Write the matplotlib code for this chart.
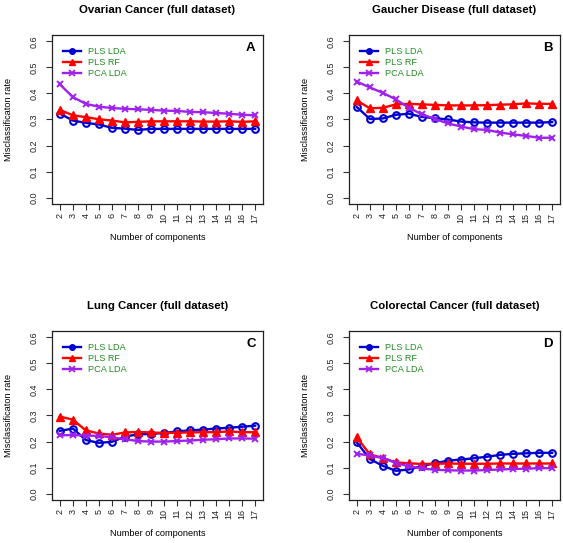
import matplotlib

matplotlib.use("Agg")
import matplotlib.pyplot as plt  # noqa: E402
from matplotlib.lines import Line2D  # noqa: E402

plt.rcParams["font.family"] = ["Liberation Sans", "DejaVu Sans"]

components = list(range(2, 18))

ovarian_pls_lda = [0.323, 0.296, 0.287, 0.281, 0.268, 0.265, 0.260, 0.264,
                   0.264, 0.264, 0.264, 0.264, 0.264, 0.264, 0.264, 0.264]
ovarian_pls_rf = [0.337, 0.316, 0.309, 0.301, 0.296, 0.289, 0.291, 0.293,
                  0.293, 0.293, 0.293, 0.292, 0.292, 0.293, 0.291, 0.293]
ovarian_pca_lda = [0.435, 0.386, 0.360, 0.349, 0.344, 0.341, 0.339, 0.337,
                   0.334, 0.333, 0.329, 0.328, 0.325, 0.322, 0.318, 0.316]

gaucher_pls_lda = [0.348, 0.302, 0.304, 0.318, 0.322, 0.310, 0.305, 0.300,
                   0.292, 0.289, 0.288, 0.288, 0.288, 0.288, 0.288, 0.290]
gaucher_pls_rf = [0.373, 0.343, 0.345, 0.358, 0.360, 0.358, 0.356, 0.354,
                  0.354, 0.354, 0.355, 0.357, 0.358, 0.362, 0.360, 0.360]
gaucher_pca_lda = [0.445, 0.423, 0.402, 0.377, 0.345, 0.320, 0.302, 0.285,
                   0.273, 0.263, 0.260, 0.250, 0.243, 0.237, 0.230, 0.230]

lung_pls_lda = [0.241, 0.250, 0.206, 0.195, 0.199, 0.219, 0.228, 0.229,
                0.233, 0.239, 0.243, 0.246, 0.250, 0.253, 0.257, 0.261]
lung_pls_rf = [0.296, 0.284, 0.243, 0.231, 0.226, 0.235, 0.237, 0.235,
               0.233, 0.234, 0.235, 0.236, 0.236, 0.239, 0.236, 0.236]
lung_pca_lda = [0.224, 0.225, 0.223, 0.222, 0.216, 0.209, 0.202, 0.200,
                0.200, 0.202, 0.204, 0.207, 0.209, 0.212, 0.212, 0.211]

colorectal_pls_lda = [0.197, 0.133, 0.107, 0.088, 0.093, 0.106, 0.117, 0.127,
                      0.131, 0.136, 0.142, 0.149, 0.153, 0.155, 0.157, 0.157]
colorectal_pls_rf = [0.216, 0.151, 0.137, 0.120, 0.117, 0.114, 0.115, 0.116,
                     0.115, 0.115, 0.115, 0.116, 0.116, 0.116, 0.116, 0.116]
colorectal_pca_lda = [0.153, 0.147, 0.137, 0.118, 0.105, 0.097, 0.092, 0.090,
                      0.089, 0.089, 0.091, 0.093, 0.095, 0.096, 0.098, 0.098]

panels = [
    ("Ovarian Cancer (full dataset)", "A", ovarian_pls_lda, ovarian_pls_rf, ovarian_pca_lda),
    ("Gaucher Disease (full dataset)", "B", gaucher_pls_lda, gaucher_pls_rf, gaucher_pca_lda),
    ("Lung Cancer (full dataset)", "C", lung_pls_lda, lung_pls_rf, lung_pca_lda),
    ("Colorectal Cancer (full dataset)", "D", colorectal_pls_lda, colorectal_pls_rf, colorectal_pca_lda),
]
y_ticks = [0.0, 0.1, 0.2, 0.3, 0.4, 0.5, 0.6]
series_names = ["PLS LDA", "PLS RF", "PCA LDA"]

BLUE = "#0000D0"
RED = "#FF0000"
PURPLE = "#A020F0"
GREEN = "#228B22"

W, H = 563, 543
boxes = [(52, 35), (349, 35), (52, 331), (349, 331)]
bw, bh = 211, 169

fig = plt.figure(figsize=(W / 100, H / 100), dpi=100)

for (title, letter, lda, rf, pca), (bx, by) in zip(panels, boxes):
    ax = fig.add_axes([bx / W, 1 - (by + bh) / H, bw / W, bh / H])
    ax.plot(components, lda, color=BLUE, lw=1.7, marker="o", ms=4.8,
            mfc="none", mec=BLUE, mew=1.5, zorder=3)
    ax.plot(components, rf, color=RED, lw=1.7, marker="^", ms=5.3,
            mfc=RED, mec=RED, zorder=3)
    ax.plot(components, pca, color=PURPLE, lw=1.7, marker="x", ms=4.8,
            mew=1.4, zorder=3)

    ax.set_xlim(1.4, 17.6)
    ax.set_ylim(-0.024, 0.624)
    ax.set_xticks(components)
    ax.set_xticklabels([str(c) for c in components], rotation=90)
    ax.set_yticks(y_ticks)
    ax.set_yticklabels(["%.1f" % v for v in y_ticks], rotation=90, va="center")
    ax.tick_params(axis="both", direction="out", length=4.3, width=0.8,
                   color="#333333", labelsize=6.5, labelcolor="#222222")
    ax.tick_params(axis="x", pad=2)
    ax.tick_params(axis="y", pad=5)
    for sp in ax.spines.values():
        sp.set_linewidth(0.9)
        sp.set_color("#222222")

    ax.set_title(title, fontsize=8.2, fontweight="bold", pad=15.5)
    ax.set_xlabel("Number of components", fontsize=6.6, va="center")
    ax.xaxis.set_label_coords(0.5, -34 / bh)
    ax.set_ylabel("Misclassificaton rate", fontsize=6.6, va="center")
    ax.yaxis.set_label_coords(-43 / bw, 0.5)

    ax.text(0.965, 0.925, letter, transform=ax.transAxes, ha="right",
            va="center", fontsize=9.5, fontweight="bold")

    handles = [
        Line2D([], [], color=BLUE, lw=1.7, marker="o", ms=4, mfc=BLUE, mec=BLUE),
        Line2D([], [], color=RED, lw=1.7, marker="^", ms=4.5, mfc=RED, mec=RED),
        Line2D([], [], color=PURPLE, lw=1.7, marker="x", ms=4, mew=1.3),
    ]
    leg = ax.legend(handles, series_names, loc="upper left",
                    bbox_to_anchor=(0.02, 0.965), frameon=False, fontsize=6.6,
                    handlelength=2.0, handletextpad=0.8, labelspacing=0.2,
                    borderaxespad=0.3)
    for t in leg.get_texts():
        t.set_color(GREEN)

fig.savefig("out.png", dpi=100)
